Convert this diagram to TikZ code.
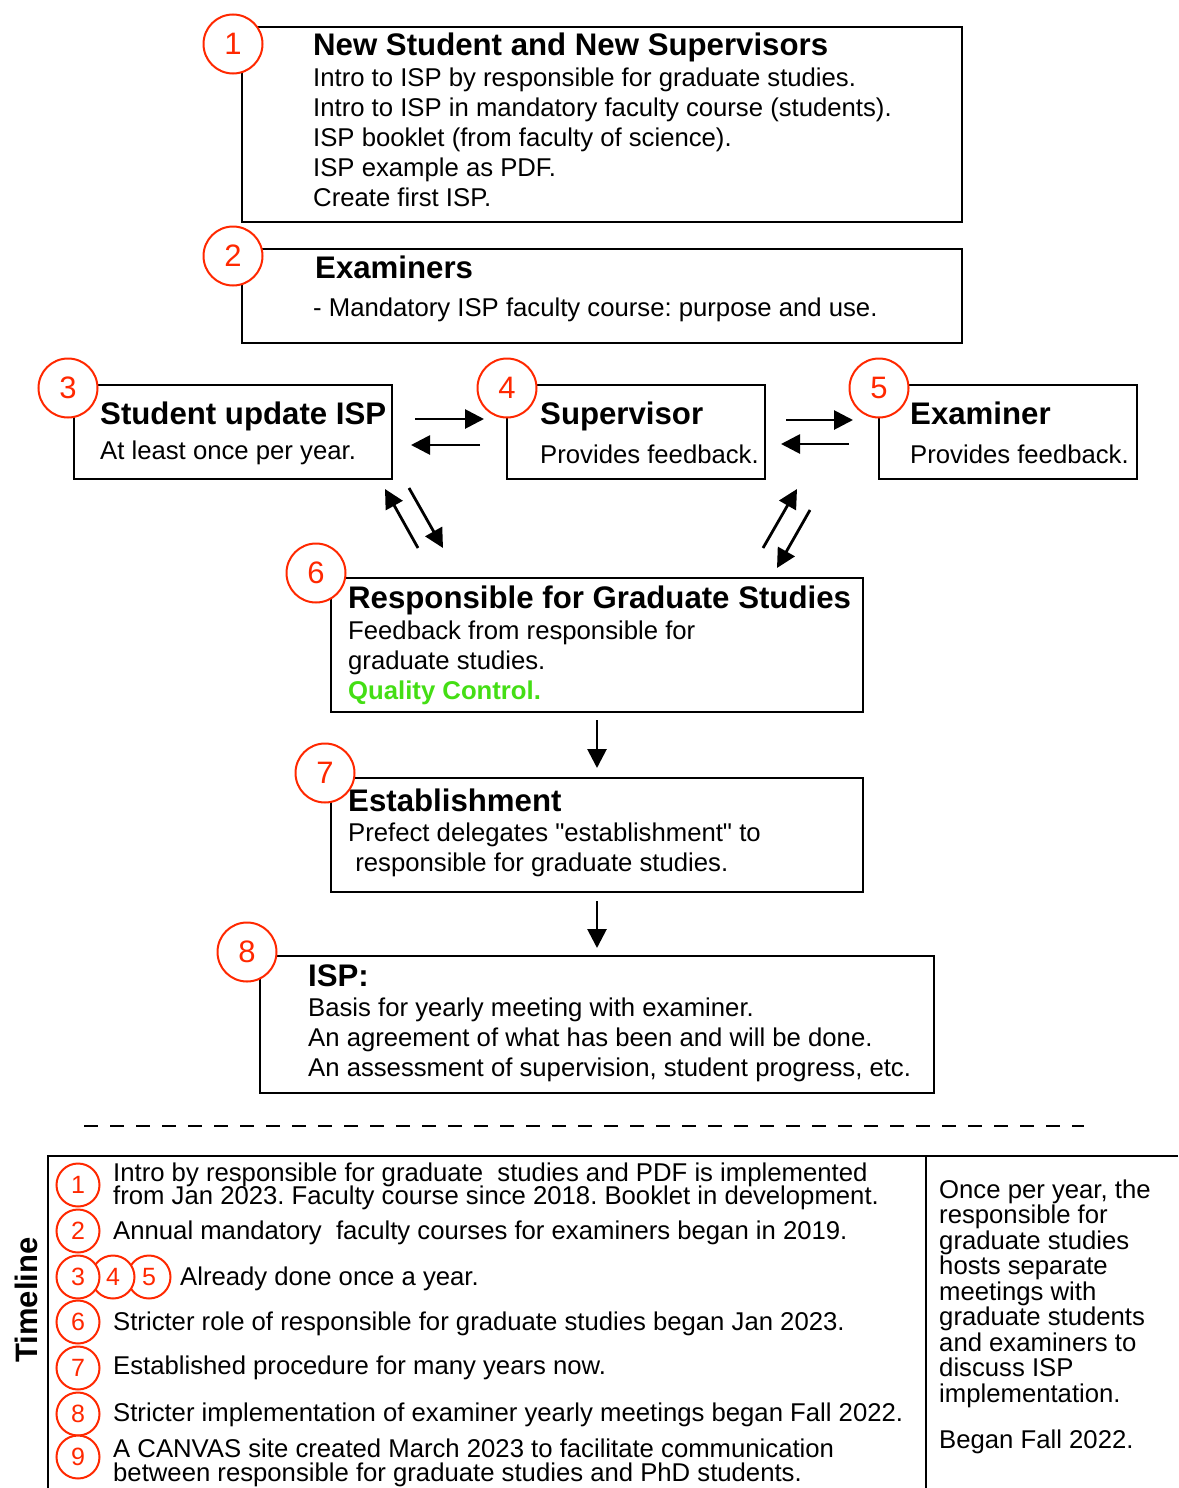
\documentclass[tikz,border=0pt]{standalone}
\usepackage{fontspec}
\setmainfont{Liberation Sans}
\newfontfamily\straightfont{Liberation Sans}[Ligatures=TeXOff]
\usetikzlibrary{arrows.meta}
\frenchspacing
\definecolor{numred}{RGB}{255,40,0}
\definecolor{qgreen}{RGB}{68,222,20}
\tikzset{
  box/.style={draw, line width=2.6pt},
  num/.style={circle, draw=numred, text=numred, fill=white, line width=2pt, minimum size=59pt, inner sep=0pt, font=\fontsize{31}{31}\selectfont},
  snum/.style={circle, draw=numred, text=numred, fill=white, line width=2pt, minimum size=43pt, inner sep=0pt, font=\fontsize{25}{25}\selectfont},
  ttl/.style={anchor=base west, inner sep=0pt, font=\bfseries\fontsize{31.2}{31.2}\selectfont},
  txt/.style={anchor=base west, inner sep=0pt, font=\fontsize{25.7}{25.7}\selectfont},
  arr/.style={-{Triangle[length=19pt,width=19pt]}, line width=2.8pt},
}
\begin{document}
\begin{tikzpicture}[x=1pt,y=-1pt]
\useasboundingbox (0,0) rectangle (1178,1488);
% ---------- boxes ----------
\draw[box] (242,27) rectangle (962,222);
\draw[box] (242,249) rectangle (962,343);
\draw[box] (74,385) rectangle (392,479);
\draw[box] (507,385) rectangle (765,479);
\draw[box] (879,385) rectangle (1137,479);
\draw[box] (331,578) rectangle (863,712);
\draw[box] (331,778) rectangle (863,892);
\draw[box] (260,956) rectangle (934,1093);
% ---------- box 1 ----------
\node[ttl] (t1) at (313,56) {New Student and New Supervisors};
\node[txt] (t1a) at (313,86) {Intro to ISP by responsible for graduate studies.};
\node[txt] (t1b) at (313,116) {Intro to ISP in mandatory faculty course (students).};
\node[txt] (t1c) at (313,146) {ISP booklet (from faculty of science).};
\node[txt] (t1d) at (313,176) {ISP example as PDF.};
\node[txt] (t1e) at (313,206) {Create first ISP.};
% ---------- box 2 ----------
\node[ttl] (t2) at (315,278) {Examiners};
\node[txt] (t2a) at (313,316) {- Mandatory ISP faculty course: purpose and use.};
% ---------- box 3,4,5 ----------
\node[ttl] (t3) at (100,424) {Student update ISP};
\node[txt] (t3a) at (100,459) {At least once per year.};
\node[ttl] (t4) at (540,424) {Supervisor};
\node[txt] (t4a) at (540,463) {Provides feedback.};
\node[ttl] (t5) at (910,424) {Examiner};
\node[txt] (t5a) at (910,463) {Provides feedback.};
% ---------- box 6 ----------
\node[ttl] (t6) at (348,608) {Responsible for Graduate Studies};
\node[txt] (t6a) at (348,639) {Feedback from responsible for};
\node[txt] (t6b) at (348,669) {graduate studies.};
\node[ttl, font=\bfseries\fontsize{25.7}{25.7}\selectfont, text=qgreen] (t6c) at (348,699) {Quality Control.};
% ---------- box 7 ----------
\node[ttl] (t7) at (348,811) {Establishment};
\node[txt, font=\straightfont\fontsize{25.7}{25.7}\selectfont] (t7a) at (348,841) {Prefect delegates "establishment" to};
\node[txt] (t7b) at (348,871) {\ responsible for graduate studies.};
% ---------- box 8 ----------
\node[ttl] (t8) at (308,986) {ISP:};
\node[txt] (t8a) at (308,1016) {Basis for yearly meeting with examiner.};
\node[txt] (t8b) at (308,1046) {An agreement of what has been and will be done.};
\node[txt] (t8c) at (308,1076) {An assessment of supervision, student progress, etc.};
% ---------- number circles ----------
\node[num] (n1) at (233,44) {1};
\node[num] (n2) at (233,256) {2};
\node[num] (n3) at (68,388) {3};
\node[num] (n4) at (507,388) {4};
\node[num] (n5) at (879,388) {5};
\node[num] (n6) at (316,573) {6};
\node[num] (n7) at (325,773) {7};
\node[num] (n8) at (247,952) {8};
% ---------- arrows ----------
\coordinate (a1s) at (415,419); \coordinate (a1e) at (484,419);
\coordinate (a2s) at (480,445); \coordinate (a2e) at (411,445);
\coordinate (a3s) at (786,420); \coordinate (a3e) at (853,420);
\coordinate (a4s) at (849,444); \coordinate (a4e) at (781,444);
\draw[arr] (a1s) -- (a1e);
\draw[arr] (a2s) -- (a2e);
\draw[arr] (a3s) -- (a3e);
\draw[arr] (a4s) -- (a4e);
\coordinate (d1s) at (418,548); \coordinate (d1e) at (385,489);
\coordinate (d2s) at (409,488); \coordinate (d2e) at (443,548);
\coordinate (d3s) at (763,548); \coordinate (d3e) at (797,489);
\coordinate (d4s) at (810,510); \coordinate (d4e) at (777,568);
\draw[arr] (d1s) -- (d1e);
\draw[arr] (d2s) -- (d2e);
\draw[arr] (d3s) -- (d3e);
\draw[arr] (d4s) -- (d4e);
\coordinate (v1s) at (597,720); \coordinate (v1e) at (597,768);
\coordinate (v2s) at (597,901); \coordinate (v2e) at (597,948);
\draw[arr] (v1s) -- (v1e);
\draw[arr] (v2s) -- (v2e);
% ---------- dashed separator ----------
\coordinate (ds) at (84,1126); \coordinate (de) at (1084,1126);
\draw[line width=2.4pt, dash pattern=on 14pt off 12pt] (ds) -- (de);
% ---------- timeline table ----------
\draw[line width=2.6pt] (1178,1156) -- (48,1156) -- (48,1500);
\draw[line width=2.6pt] (926,1156) -- (926,1500);
\node[rotate=90, inner sep=0pt, font=\bfseries\fontsize{31}{31}\selectfont] (tl) at (26,1300) {Timeline};
\node[snum] (s1) at (78,1185) {1};
\node[snum] (s2) at (78,1231) {2};
\node[snum] (s5) at (149,1277) {5};
\node[snum] (s4) at (113,1277) {4};
\node[snum] (s3) at (78,1277) {3};
\node[snum] (s6) at (78,1322) {6};
\node[snum] (s7) at (78,1368) {7};
\node[snum] (s8) at (78,1414) {8};
\node[snum] (s9) at (78,1457) {9};
\node[txt] (l1a) at (113,1181) {Intro by responsible for graduate\ \ studies and PDF is implemented};
\node[txt] (l1b) at (113,1204) {from Jan 2023. Faculty course since 2018. Booklet in development.};
\node[txt] (l2) at (113,1239) {Annual mandatory\ \ faculty courses for examiners began in 2019.};
\node[txt] (l3) at (180,1285) {Already done once a year.};
\node[txt] (l6) at (113,1330) {Stricter role of responsible for graduate studies began Jan 2023.};
\node[txt] (l7) at (113,1374) {Established procedure for many years now.};
\node[txt] (l8) at (113,1421) {Stricter implementation of examiner yearly meetings began Fall 2022.};
\node[txt] (l9a) at (113,1457) {A CANVAS site created March 2023 to facilitate communication};
\node[txt] (l9b) at (113,1481) {between responsible for graduate studies and PhD students.};
\node[txt] (r1) at (939,1198) {Once per year, the};
\node[txt] (r2) at (939,1223.5) {responsible for};
\node[txt] (r3) at (939,1249) {graduate studies};
\node[txt] (r4) at (939,1274.5) {hosts separate};
\node[txt] (r5) at (939,1300) {meetings with};
\node[txt] (r6) at (939,1325.5) {graduate students};
\node[txt] (r7) at (939,1351) {and examiners to};
\node[txt] (r8) at (939,1376.5) {discuss ISP};
\node[txt] (r9) at (939,1402) {implementation.};
\node[txt] (r10) at (939,1448) {Began Fall 2022.};
\end{tikzpicture}
\end{document}
